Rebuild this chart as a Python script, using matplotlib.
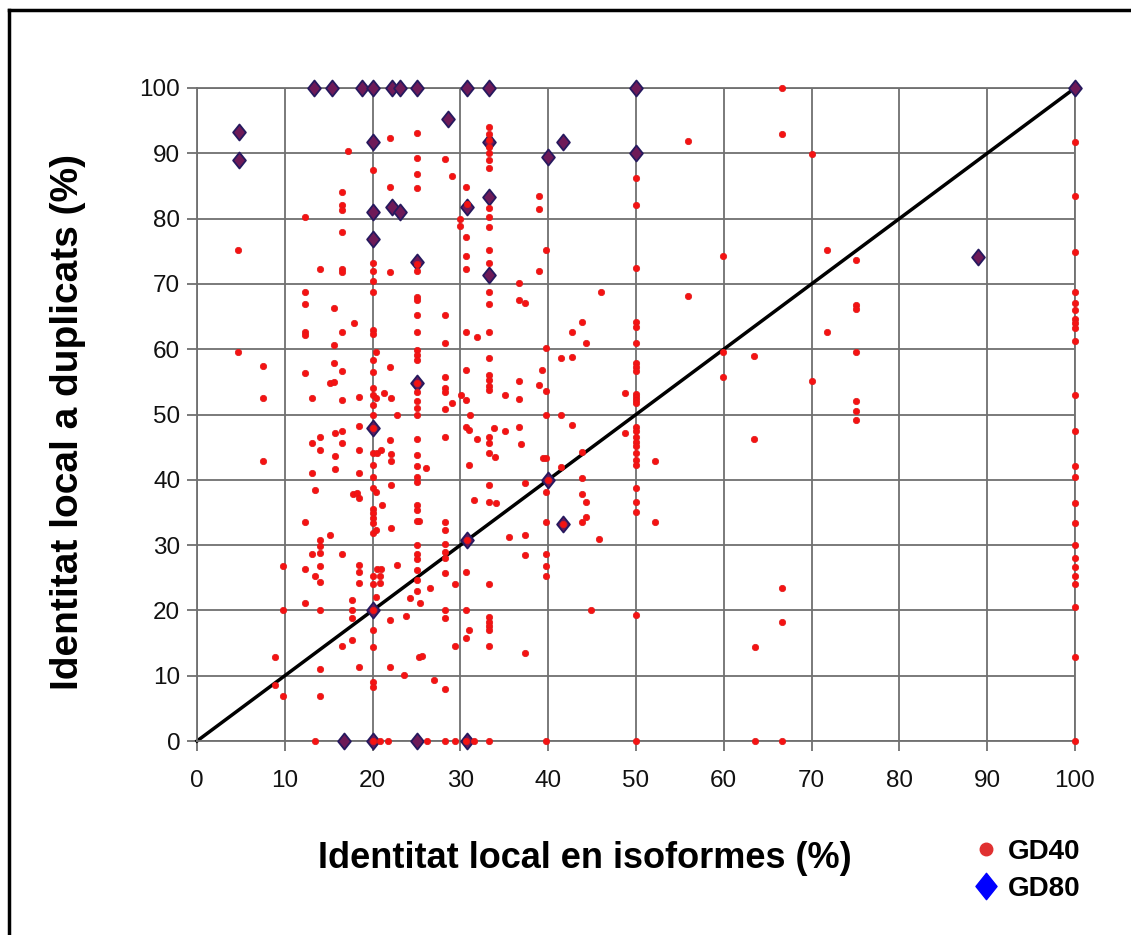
import matplotlib

matplotlib.use('Agg')

import matplotlib.pyplot as plt
from matplotlib.lines import Line2D
from matplotlib.path import Path

# GD40 points (identitat isoformes %, identitat duplicats %)
gd40_x = [
    4.7, 4.7, 7.5, 7.5, 7.5, 8.9, 8.9, 9.8, 9.8, 9.8,
    12.3, 12.3, 12.3, 12.3, 12.3, 12.3, 12.3, 12.3, 12.3,
    13.1, 13.1, 13.1, 13.1, 13.4, 13.4, 13.4,
    14, 14, 14, 14, 14, 14, 14, 14, 14, 14, 14,
    15.1, 15.1, 15.6, 15.6, 15.6, 15.6, 15.7, 15.7, 15.7,
    16.5, 16.5, 16.5, 16.5, 16.5, 16.5, 16.5, 16.5, 16.5, 16.5, 16.5, 16.5, 16.5,
    17.2, 17.7, 17.7, 17.7, 17.7, 17.9, 17.8, 18.2,
    18.5, 18.5, 18.5, 18.5, 18.5, 18.5, 18.5, 18.5, 18.5,
    20, 20, 20, 20, 20, 20, 20, 20, 20, 20, 20, 20, 20, 20, 20, 20, 20, 20, 20, 20,
    20, 20, 20, 20, 20, 20, 20, 20, 20,
    20.4, 20.4, 20.5, 20.4, 20.4, 20.5, 20.8, 20.8, 21, 20.4, 21.3, 21, 21.1, 20.8,
    22, 22, 22, 22, 22.1, 22, 22.1, 22.1, 22.1, 22.1, 22, 22, 21.8,
    22.8, 22.8, 23.8, 23.6,
    25, 25, 25, 25, 25, 25, 25, 25, 25, 25, 25, 25, 25, 25, 25, 25, 25, 25, 25, 25,
    25, 25, 25, 25.3, 25, 25, 25, 25, 25, 25, 24.3, 25, 25, 25.3, 25.6, 25.4,
    26.1, 26.5, 27, 26.2,
    28.3, 28.3, 28.3, 28.3, 28.3, 28.3, 28.3, 28.3, 28.3, 28.3, 28.3, 28.3, 28.3,
    28.3, 28.3, 28.3, 28.3, 28.3,
    29.1, 29.1, 29.4, 29.4, 29.4, 29.9, 29.9, 30.1,
    30.6, 30.7, 30.6, 30.6, 30.6, 30.6, 30.6, 30.6, 30.6, 30.6, 30.6, 30.6, 30.6,
    31.1, 31.0, 31.0, 31.0, 31.9, 31.9, 31.6, 31.5,
    33.3, 33.3, 33.3, 33.3, 33.3, 33.3, 33.3, 33.3, 33.3, 33.3, 33.3, 33.3, 33.3,
    33.3, 33.3, 33.3, 33.3, 33.3, 33.3, 33.3, 33.3, 33.3, 33.3, 33.3, 33.3, 33.3,
    33.3, 33.3, 33.3, 33.3, 33.3, 33.3,
    33.9, 33.8, 34.1, 35.1, 35.1, 35.5,
    36.7, 36.7, 37.4, 36.7, 36.7, 36.7, 36.9, 37.4, 37.4, 37.4, 37.4,
    39, 39, 39.8, 39, 39.8, 39.3, 39, 39.8, 39.8, 39.4, 39.8, 39.8, 39.8, 39.8,
    39.8, 39.8, 39.8,
    41.5, 41.5, 41.5, 42.7, 42.7, 42.7,
    43.8, 44.3, 43.8, 43.8, 43.8, 44.3, 44.3, 43.8,
    46, 44.9, 45.8, 48.8, 48.8,
    50, 50, 50, 50, 50, 50, 50, 50, 50, 50, 50, 50, 50, 50, 50, 50, 50, 50, 50, 50,
    50, 50, 50, 50, 50, 50,
    52.2, 52.2, 55.9, 55.9, 59.9, 59.9, 59.9, 63.4, 63.4, 63.6, 63.6,
    66.6, 66.6, 66.6, 66.6, 66.6, 70, 70, 71.8, 71.8,
    75, 75, 75, 75, 75, 75, 75,
    100, 100, 100, 100, 100, 100, 100, 100, 100, 100, 100, 100, 100, 100, 100, 100,
    100, 100, 100, 100, 100, 100, 100, 100,
    20, 30.8, 41.7, 40, 20, 25,
]
gd40_y = [
    75.2, 59.5, 57.4, 52.6, 42.9, 12.8, 8.6, 26.8, 20.1, 6.9,
    80.3, 68.7, 66.9, 62.7, 62.2, 56.4, 33.6, 26.4, 21.2,
    52.6, 45.6, 41.0, 28.7, 38.5, 25.3, 0,
    72.3, 46.6, 44.6, 30.8, 29.8, 28.8, 26.8, 24.4, 20.1, 11.0, 6.9,
    54.9, 31.5, 66.3, 60.6, 57.9, 55.0, 47.2, 43.6, 41.6,
    84.1, 82.1, 81.3, 78.0, 72.3, 71.8, 62.7, 56.7, 52.2, 47.5, 45.6, 28.7, 14.5,
    90.4, 21.6, 20.1, 18.9, 15.5, 64.0, 37.9, 38.0,
    52.7, 48.2, 44.6, 41.0, 37.2, 27.0, 25.9, 24.2, 11.4,
    87.4, 73.2, 72.0, 70.5, 68.7, 62.9, 62.4, 58.3, 56.5, 54.0, 53.0, 51.5, 50.0, 44.1,
    42.3, 40.5, 38.7, 35.6, 34.9, 34.1,
    33.4, 31.8, 25.2, 24.1, 17.0, 14.4, 9.1, 8.3, 0,
    59.5, 52.5, 44.1, 38.2, 32.3, 26.4, 25.2, 24.2, 26.4, 22.1, 53.3, 44.6, 36.1, 0,
    92.3, 84.9, 71.8, 57.3, 52.5, 46.1, 43.9, 42.9, 39.2, 32.6, 18.6, 11.4, 0,
    49.9, 27.0, 19.1, 10.1,
    93.1, 89.3, 86.9, 84.7, 73.0, 72.0, 68.0, 67.5, 65.2, 62.7, 59.9, 59.1, 58.3, 53.5,
    52.0, 51.0, 50.0, 46.2, 43.8, 42.1,
    40.5, 39.6, 36.1, 33.7, 35.4, 33.7, 30.0, 28.7, 27.8, 26.2, 21.9, 24.7, 22.9, 12.9,
    13.0, 21.1,
    41.8, 23.5, 9.3, 0,
    89.2, 65.2, 60.9, 55.8, 54.0, 53.5, 50.9, 46.6, 33.6, 32.3, 30.2, 29.0, 28.0,
    25.7, 20.1, 18.9, 7.9, 0,
    86.5, 51.7, 24.1, 14.5, 0, 80.0, 78.8, 53.0,
    84.9, 82.3, 77.2, 74.2, 72.3, 62.7, 56.8, 52.2, 48.1, 25.9, 20.1, 15.7, 0,
    49.9, 47.6, 42.3, 17.0, 61.9, 46.2, 36.9, 0,
    94, 93, 92, 91, 90, 89, 87.7, 81.6, 80.2, 78.7, 75.2, 73.2, 68.8,
    66.9, 62.7, 58.7, 56.0, 55.3, 54.4, 53.8, 46.6, 45.6, 44.1, 39.2, 36.6, 24.1,
    19.0, 18.3, 17.6, 17.0, 14.5, 0,
    43.5, 48.0, 36.4, 53.0, 47.4, 31.3,
    70.1, 67.6, 67.0, 55.1, 52.3, 48.1, 45.5, 39.5, 31.5, 28.5, 13.4,
    83.5, 81.5, 75.2, 71.9, 60.2, 56.8, 54.5, 53.6, 49.9, 43.4, 43.4, 38.2, 33.6, 28.7,
    26.8, 25.2, 0,
    58.6, 49.9, 42.0, 62.7, 58.8, 48.4,
    64.2, 61.0, 44.3, 40.2, 37.8, 36.6, 34.3, 33.6,
    68.8, 20.1, 30.9, 53.3, 47.1,
    86.2, 82.1, 72.4, 64.2, 63.4, 61.0, 57.9, 57.3, 56.7, 53.2, 52.7, 52.2, 51.7, 48.1,
    47.4, 46.6, 45.8, 45.1, 44.1, 43.0,
    42.3, 38.7, 36.6, 35.1, 19.3, 0,
    42.9, 33.6, 91.9, 68.2, 74.3, 59.5, 55.8, 59.0, 46.2, 14.4, 0,
    100, 93, 23.5, 18.3, 0, 89.9, 55.2, 75.2, 62.7,
    73.6, 66.8, 66.1, 59.5, 52.1, 50.5, 49.1,
    91.8, 83.5, 74.9, 68.8, 67.0, 66.0, 64.7, 64.0, 63.2, 61.2, 53.0, 47.4, 42.1, 40.5,
    36.5, 33.4,
    30.0, 28.0, 26.7, 25.2, 24.1, 20.5, 12.8, 0,
    48.0, 30.8, 33.3, 40, 20, 54.8,
]

# GD80 points
gd80_x = [4.8, 4.8, 13.3, 15.4, 18.75, 20, 22.2, 23.1, 25, 30.8, 33.3, 28.6, 20, 33.3,
          33.3, 20, 22.2, 23.1, 30.8, 20, 25, 33.3, 40, 41.7, 50, 50, 88.9, 100, 25, 20,
          30.8, 20, 16.7, 20, 25, 30.8, 40, 41.7]
gd80_y = [93.3, 88.9, 100, 100, 100, 100, 100, 100, 100, 100, 100, 95.2, 91.7, 91.7,
          83.3, 81, 81.8, 81, 81.8, 76.9, 73.3, 71.4, 89.5, 91.7, 100, 90, 74.1, 100, 54.8,
          48, 30.8, 20, 0, 0, 0, 0, 40, 33.3]

ticks = [0, 10, 20, 30, 40, 50, 60, 70, 80, 90, 100]

diamond = Path([(0, 1), (0.8, 0), (0, -1), (-0.8, 0), (0, 1)],
               [Path.MOVETO, Path.LINETO, Path.LINETO, Path.LINETO, Path.CLOSEPOLY])

plt.rcParams['font.family'] = ['Liberation Sans', 'DejaVu Sans']

fig = plt.figure(figsize=(11.31, 9.35), dpi=100)
ax = fig.add_axes([197 / 1131, 1 - 741 / 935, 878 / 1131, 653 / 935])

grid_color = '#707070'
ax.set_xlim(0, 100)
ax.set_ylim(0, 100)
ax.set_xticks(ticks)
ax.set_yticks(ticks)
ax.grid(True, color=grid_color, linewidth=1.3, zorder=0)
ax.set_axisbelow(True)
for spine in ax.spines.values():
    spine.set_color(grid_color)
    spine.set_linewidth(1.3)
ax.tick_params(axis='both', direction='out', length=7, width=1.3, color=grid_color,
               labelsize=17.5, labelcolor='#111111')
ax.tick_params(axis='x', pad=14)
ax.tick_params(axis='y', pad=5)

ax.plot([0, 100], [0, 100], color='black', linewidth=2.5, zorder=2, clip_on=False)

ax.plot(gd80_x, gd80_y, linestyle='none', marker=diamond, markersize=11.5,
        markerfacecolor='#6e1a58', markeredgecolor='#26195e', markeredgewidth=1.3,
        zorder=3, clip_on=False)
ax.plot(gd40_x, gd40_y, linestyle='none', marker='o', markersize=4.6,
        markerfacecolor='#f51212', markeredgecolor='#e01818', markeredgewidth=0.5,
        zorder=4, clip_on=False)

fig.text(585 / 1131, 1 - 858 / 935, 'Identitat local en isoformes (%)',
         ha='center', va='center', fontsize=26, fontweight='bold')
fig.text(68 / 1131, 1 - 422 / 935, 'Identitat local a duplicats (%)',
         ha='center', va='center', rotation=90, fontsize=28, fontweight='bold')

handles = [
    Line2D([], [], linestyle='none', marker='o', markersize=9,
           markerfacecolor='#e03030', markeredgecolor='#e03030'),
    Line2D([], [], linestyle='none', marker=diamond, markersize=19,
           markerfacecolor='#0000ff', markeredgecolor='#0000ff'),
]
fig.legend(handles, ['GD40', 'GD80'], loc='upper left',
           bbox_to_anchor=(944 / 1131, 1 - 814 / 935), frameon=False,
           prop={'size': 20, 'weight': 'bold'}, handletextpad=0.2,
           labelspacing=0.38, handlelength=1.2)

# frame lines at left and top of the figure
fig.add_artist(Line2D([9 / 1131, 9 / 1131], [0, 1 - 10 / 935], color='black',
                      linewidth=2.5, transform=fig.transFigure))
fig.add_artist(Line2D([9 / 1131, 1], [1 - 10 / 935, 1 - 10 / 935], color='black',
                      linewidth=2.5, transform=fig.transFigure))

fig.savefig('out.png', dpi=100)
